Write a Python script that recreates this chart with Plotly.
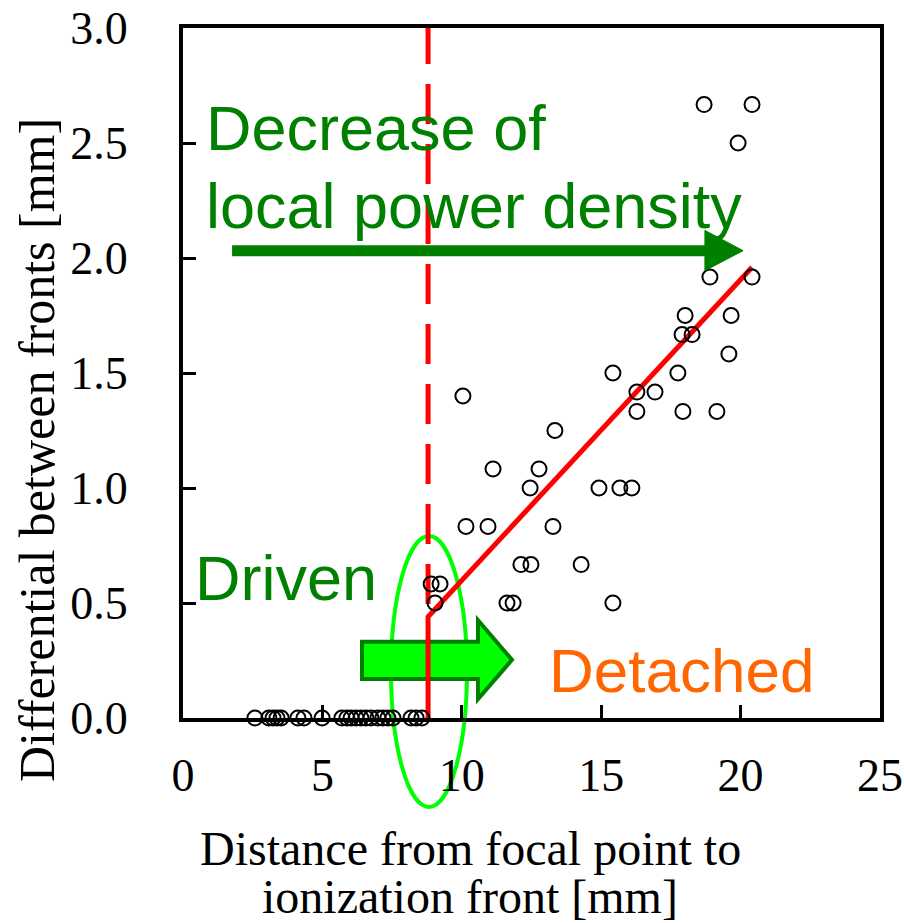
import plotly.graph_objects as go

# ---- data ----
zero_x = [2.58, 3.08, 3.23, 3.37, 3.52, 4.12, 4.34, 4.99, 5.70, 5.88, 6.03,
          6.21, 6.38, 6.56, 6.74, 6.99, 7.17, 7.35, 7.53, 8.18, 8.36, 8.57]
zero_y = [0.0] * len(zero_x)

det_x = [18.69, 20.41, 19.91, 18.90, 20.41, 18.01, 19.66, 17.90, 18.26, 19.58,
         15.42, 17.75, 16.28, 16.93, 16.28, 17.93, 19.15, 10.04, 13.34, 11.12,
         12.77, 12.45, 14.92, 15.67, 16.10, 10.15, 10.94, 13.27, 12.12, 12.48,
         14.28, 8.90, 9.22, 9.04, 11.62, 11.84, 15.42]
det_y = [2.667, 2.667, 2.50, 1.917, 1.917, 1.75, 1.75, 1.667, 1.667, 1.583,
         1.50, 1.50, 1.417, 1.417, 1.333, 1.333, 1.333, 1.40, 1.25, 1.083,
         1.083, 1.00, 1.00, 1.00, 1.00, 0.833, 0.833, 0.833, 0.667, 0.667,
         0.667, 0.583, 0.583, 0.50, 0.50, 0.50, 0.50]

fit_x = [8.79, 8.79, 20.41]
fit_y = [0.0, 0.44, 1.96]

thr_x = [8.79, 8.79]
thr_y = [3.0, 0.44]

x_ticks = [0, 5, 10, 15, 20, 25]
y_ticks = [0.0, 0.5, 1.0, 1.5, 2.0, 2.5, 3.0]

# ---- figure ----
fig = go.Figure()

fig.add_trace(go.Scatter(
    x=thr_x, y=thr_y, mode="lines",
    line=dict(color="#ff0000", width=5,
              dash="36px,20px,40px,20px,40px,20px,40px,20px,40px,20px,40px,20px,40px,20px,40px,20px,40px,20px,40px,20px"),
    hoverinfo="skip", showlegend=False))

fig.add_trace(go.Scatter(
    x=fit_x, y=fit_y, mode="lines",
    line=dict(color="#ff0000", width=5),
    hoverinfo="skip", showlegend=False, cliponaxis=False))

fig.add_trace(go.Scatter(
    x=zero_x + det_x, y=zero_y + det_y, mode="markers",
    marker=dict(symbol="circle-open", size=15, color="black",
                line=dict(width=2, color="black")),
    showlegend=False, cliponaxis=False))

serif = "Liberation Serif, Times New Roman, serif"
sans = "Liberation Sans, Arial, sans-serif"

fig.update_layout(
    width=904, height=923,
    margin=dict(l=183, r=24, t=28, b=205, autoexpand=False),
    paper_bgcolor="white", plot_bgcolor="white",
    showlegend=False,
    xaxis=dict(range=[0, 25], tickvals=x_ticks, ticktext=[str(v) for v in x_ticks],
               showline=True, linewidth=4, linecolor="black", mirror=True,
               ticks="inside", ticklen=13, tickwidth=3, tickcolor="black",
               showgrid=False, zeroline=False, automargin=False,
               ticklabeloverflow="allow",
               tickfont=dict(family=serif, size=46, color="black"),
               ticklabelstandoff=14),
    yaxis=dict(range=[0, 3], tickvals=y_ticks, ticktext=[f"{v:.1f}" for v in y_ticks],
               showline=True, linewidth=4, linecolor="black", mirror=True,
               ticks="inside", ticklen=13, tickwidth=3, tickcolor="black",
               showgrid=False, zeroline=False, automargin=False,
               ticklabeloverflow="allow",
               tickfont=dict(family=serif, size=46, color="black"),
               ticklabelstandoff=42),
)

# axis titles as annotations (offset from axis centre, as in the original)
fig.add_annotation(xref="paper", yref="paper",
                   x=(37 - 183) / 697, y=(718 - 450) / 690,
                   text="Differential between fronts [mm]", textangle=-90,
                   showarrow=False, xanchor="center", yanchor="middle",
                   font=dict(family=serif, size=50, color="black"))
fig.add_annotation(xref="paper", yref="paper",
                   x=(470 - 183) / 697, y=(718 - 848) / 690,
                   text="Distance from focal point to",
                   showarrow=False, xanchor="center", yanchor="middle",
                   font=dict(family=serif, size=48, color="black"))
fig.add_annotation(xref="paper", yref="paper",
                   x=(470 - 183) / 697, y=(718 - 897) / 690,
                   text="ionization front [mm]",
                   showarrow=False, xanchor="center", yanchor="middle",
                   font=dict(family=serif, size=48, color="black"))

# text labels
fig.add_annotation(x=0.75, y=(718 - 130) / 229.3, text="Decrease of",
                   showarrow=False, xanchor="left", yanchor="middle",
                   font=dict(family=sans, size=63, color="#008000"))
fig.add_annotation(x=0.75, y=(718 - 208) / 229.3, text="local power density",
                   showarrow=False, xanchor="left", yanchor="middle",
                   font=dict(family=sans, size=63, color="#008000"))
fig.add_annotation(x=0.35, y=(718 - 578) / 229.3, text="Driven",
                   showarrow=False, xanchor="left", yanchor="middle",
                   font=dict(family=sans, size=63, color="#008000"))
fig.add_annotation(x=13.05, y=(718 - 671) / 229.3, text="Detached",
                   showarrow=False, xanchor="left", yanchor="middle",
                   font=dict(family=sans, size=62, color="#ff6600"))

# dark green arrow (shaft + head)
fig.add_shape(type="line", x0=1.76, y0=2.032, x1=18.9, y1=2.032,
              line=dict(color="#008000", width=11), layer="above")
fig.add_shape(type="path", path="M 18.72 2.12 L 20.09 2.032 L 18.72 1.945 Z",
              fillcolor="#008000", line=dict(color="#008000", width=1), layer="above")

# light green block arrow
fig.add_shape(type="path",
              path="M 6.42 0.332 L 10.58 0.332 L 10.58 0.425 L 11.8 0.253 L 10.58 0.082 L 10.58 0.17 L 6.42 0.17 Z",
              fillcolor="#00ff00", line=dict(color="#008000", width=4), layer="below")

# ellipse around threshold
fig.add_shape(type="circle", xref="paper", yref="paper",
              x0=(391 - 183) / 697, x1=(467 - 183) / 697,
              y0=(718 - 807) / 690, y1=(718 - 536) / 690,
              line=dict(color="#00ff00", width=4), layer="below")

fig.write_html(
    "out.html",
    config={"displayModeBar": False},
    post_script="document.body.style.margin='0';document.body.style.overflow='hidden';",
)
